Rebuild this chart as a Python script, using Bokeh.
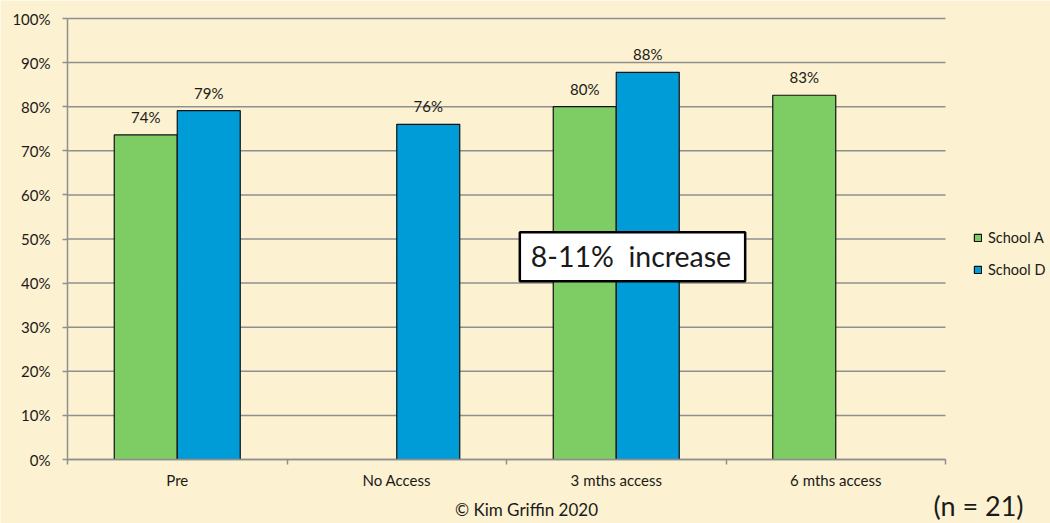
from bokeh.plotting import figure
from bokeh.models import (Range1d, FixedTicker, PrintfTickFormatter, ColumnDataSource,
                          Legend, LegendItem, Label, LinearAxis)
from bokeh.embed import file_html
from bokeh.resources import INLINE

# --- data -------------------------------------------------------------
categories = ["Pre", "No Access", "3 mths access", "6 mths access"]
school_a = [73.6, None, 80.0, 82.6]   # percent
school_d = [79.1, 76.0, 87.8, None]   # percent
y_ticks = [0, 10, 20, 30, 40, 50, 60, 70, 80, 90, 100]

FONT = "Lato"
BG = "#FCF1D0"
GREEN = "#7ECC64"
BLUE = "#009CD8"
GRID = "#8F8F8F"
TEXT = "#1A1A1A"

W, H = 1050, 523
# plot area in pixels (left, right, top, bottom)
PL, PR, PT, PB = 67, 945, 18, 459
n = len(categories)
y_max = 100
sx = (PR - PL) / n          # px per category
sy = (PB - PT) / y_max      # px per percent

BAR_W = 0.287
centers = [i + 0.5 for i in range(n)]

# the frame fills the whole canvas; axes are pinned inside it
p = figure(width=W, height=H, output_backend="svg", toolbar_location=None,
           x_range=Range1d(-PL / sx, n + (W - PR) / sx),
           y_range=Range1d(-(H - PB) / sy, y_max + PT / sy),
           x_axis_type=None, y_axis_type=None,
           min_border=0, min_border_left=0, min_border_right=0,
           min_border_top=0, min_border_bottom=0)
p.background_fill_color = BG
p.border_fill_color = BG
p.outline_line_color = None
p.grid.visible = False

# horizontal gridlines across the category span
p.segment(x0=[0] * len(y_ticks), x1=[n] * len(y_ticks), y0=y_ticks, y1=y_ticks,
          line_color=GRID, line_width=1.5)

# y axis
yaxis = LinearAxis(fixed_location=0, bounds=(0, y_max))
yaxis.ticker = FixedTicker(ticks=y_ticks)
yaxis.formatter = PrintfTickFormatter(format="%d%%")
yaxis.axis_line_color = GRID
yaxis.axis_line_width = 1.5
yaxis.major_tick_line_color = GRID
yaxis.major_tick_line_width = 1.5
yaxis.major_tick_out = 5
yaxis.major_tick_in = 0
yaxis.minor_tick_line_color = None
yaxis.major_label_standoff = 12
yaxis.major_label_text_font = FONT
yaxis.major_label_text_font_size = "15px"
yaxis.major_label_text_color = TEXT
p.add_layout(yaxis, "left")

# x axis: labels at category centres, tick marks at category boundaries
xaxis = LinearAxis(fixed_location=0, bounds=(0, n))
xaxis.ticker = FixedTicker(ticks=centers, minor_ticks=list(range(n + 1)))
xaxis.major_label_overrides = {c: lab for c, lab in zip(centers, categories)}
xaxis.axis_line_color = GRID
xaxis.axis_line_width = 1.5
xaxis.major_tick_line_color = None
xaxis.major_tick_out = 5
xaxis.minor_tick_line_color = GRID
xaxis.minor_tick_line_width = 1.5
xaxis.minor_tick_out = 5
xaxis.minor_tick_in = 0
xaxis.major_label_standoff = 6
xaxis.major_label_text_font = FONT
xaxis.major_label_text_font_size = "15px"
xaxis.major_label_text_color = TEXT
p.add_layout(xaxis, "below")


def series_source(values, offset):
    xs, tops, labels = [], [], []
    for c, v in zip(centers, values):
        if v is None:
            continue
        xs.append(c + offset)
        tops.append(v)
        labels.append(f"{v:.0f}%")
    return ColumnDataSource(dict(x=xs, top=tops, label=labels))


src_a = series_source(school_a, -BAR_W / 2)
src_d = series_source(school_d, BAR_W / 2)

ra = p.vbar(x="x", top="top", width=BAR_W, source=src_a, fill_color=GREEN,
            line_color="#111111", line_width=1.2)
rd = p.vbar(x="x", top="top", width=BAR_W, source=src_d, fill_color=BLUE,
            line_color="#111111", line_width=1.2)

for src in (src_a, src_d):
    p.text(x="x", y="top", text="label", source=src, text_align="center",
           text_baseline="middle", y_offset=-18, text_font_size="15px",
           text_font={"value": FONT}, text_color=TEXT)

# legend to the right of the category span
legend = Legend(items=[LegendItem(label="School A", renderers=[ra]),
                       LegendItem(label="School D", renderers=[rd])],
                location=(973, H - 279), orientation="vertical",
                glyph_width=9, glyph_height=9, label_standoff=6,
                label_height=20, spacing=12, padding=0, margin=0,
                label_text_font=FONT, label_text_font_size="14.5px",
                label_text_color=TEXT, background_fill_alpha=0,
                border_line_color=None)
p.add_layout(legend, "center")

# callout box (padding given as left, right, top, bottom)
p.add_layout(Label(x=2.574, y=46.0, text="8-11%\u00a0\u00a0increase", text_align="center",
                   text_baseline="middle", text_font=FONT, text_font_size="28.5px",
                   text_color=TEXT, background_fill_color="white",
                   border_line_color="black", border_line_width=2.5,
                   padding=(11, 14, 7, 8)))

# footer texts
p.add_layout(Label(x=(526 - PL) / sx, y=-(509 - PB) / sy, text="© Kim Griffin 2020",
                   text_align="center", text_baseline="middle", text_font=FONT,
                   text_font_size="17px", text_color=TEXT))
p.add_layout(Label(x=(933 - PL) / sx, y=-(505 - PB) / sy, text="(n = 21)",
                   text_align="left", text_baseline="middle", text_font=FONT,
                   text_font_size="27px", text_color=TEXT))

open("out.html", "w").write(file_html(p, INLINE))
